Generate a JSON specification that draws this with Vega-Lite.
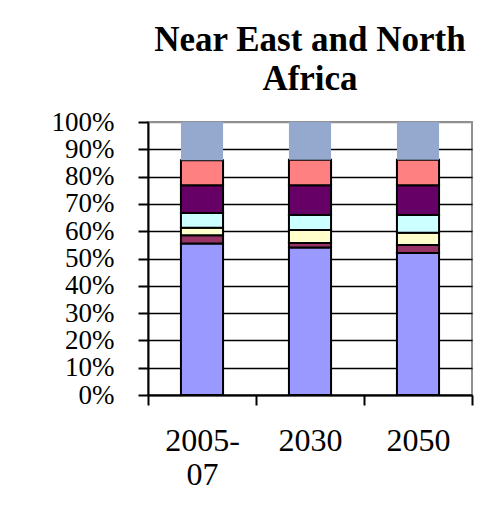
{
  "$schema": "https://vega.github.io/schema/vega-lite/v6.json",
  "width": 324,
  "height": 273,
  "autosize": "none",
  "padding": {"left": 148, "top": 122, "right": 30, "bottom": 117},
  "background": "white",
  "title": {
    "text": ["Near East and North", "Africa"],
    "font": "Liberation Serif",
    "fontSize": 35,
    "fontWeight": "bold",
    "lineHeight": 39,
    "anchor": "middle",
    "color": "black",
    "offset": 11
  },
  "data": {
    "values": [
      {"year": "2005-07", "series": "A", "order": 1, "value": 55.5},
      {"year": "2005-07", "series": "B", "order": 2, "value": 3.0},
      {"year": "2005-07", "series": "C", "order": 3, "value": 2.8},
      {"year": "2005-07", "series": "D", "order": 4, "value": 5.4},
      {"year": "2005-07", "series": "E", "order": 5, "value": 10.1},
      {"year": "2005-07", "series": "F", "order": 6, "value": 9.2},
      {"year": "2005-07", "series": "G", "order": 7, "value": 14.0},
      {"year": "2030", "series": "A", "order": 1, "value": 54.0},
      {"year": "2030", "series": "B", "order": 2, "value": 1.7},
      {"year": "2030", "series": "C", "order": 3, "value": 4.7},
      {"year": "2030", "series": "D", "order": 4, "value": 5.5},
      {"year": "2030", "series": "E", "order": 5, "value": 10.9},
      {"year": "2030", "series": "F", "order": 6, "value": 9.4},
      {"year": "2030", "series": "G", "order": 7, "value": 13.8},
      {"year": "2050", "series": "A", "order": 1, "value": 52.0},
      {"year": "2050", "series": "B", "order": 2, "value": 2.9},
      {"year": "2050", "series": "C", "order": 3, "value": 4.5},
      {"year": "2050", "series": "D", "order": 4, "value": 6.5},
      {"year": "2050", "series": "E", "order": 5, "value": 10.9},
      {"year": "2050", "series": "F", "order": 6, "value": 9.4},
      {"year": "2050", "series": "G", "order": 7, "value": 13.8}
    ]
  },
  "mark": {"type": "bar", "width": {"band": 0.39}},
  "encoding": {
    "x": {
      "field": "year",
      "type": "nominal",
      "sort": ["2005-07", "2030", "2050"],
      "scale": {"paddingInner": 0, "paddingOuter": 0},
      "axis": {
        "title": null,
        "labelAngle": 0,
        "labelFont": "Liberation Serif",
        "labelFontSize": 32,
        "labelColor": "black",
        "labelPadding": 20,
        "labelLineHeight": 34,
        "labelOverlap": false,
        "labelExpr": "datum.value == '2005-07' ? ['2005-', '07'] : datum.value",
        "tickBand": "extent",
        "tickSize": 10,
        "tickWidth": 2,
        "tickColor": "black",
        "domainColor": "black",
        "domainWidth": 2,
        "grid": false
      }
    },
    "y": {
      "field": "value",
      "type": "quantitative",
      "stack": "normalize",
      "scale": {"domain": [0, 1]},
      "axis": {
        "title": null,
        "values": [0, 0.1, 0.2, 0.3, 0.4, 0.5, 0.6, 0.7, 0.8, 0.9, 1],
        "format": ".0%",
        "labelFont": "Liberation Serif",
        "labelFontSize": 27,
        "labelColor": "black",
        "labelPadding": 24,
        "labelOverlap": false,
        "labelBound": false,
        "tickSize": 10,
        "tickWidth": 2,
        "tickColor": "black",
        "domainColor": "black",
        "domainWidth": 2,
        "grid": true,
        "gridColor": {"condition": {"test": "datum.value == 1", "value": "#909090"}, "value": "black"},
        "gridWidth": 1.6,
        "gridOpacity": 1
      }
    },
    "order": {"field": "order", "type": "quantitative", "sort": "ascending"},
    "color": {
      "field": "series",
      "type": "nominal",
      "legend": null,
      "scale": {
        "domain": ["A", "B", "C", "D", "E", "F", "G"],
        "range": ["#9999FF", "#993366", "#FFFFCC", "#CCFFFF", "#660066", "#FF8080", "#95A8CE"]
      }
    },
    "stroke": {
      "condition": {"test": "datum.series == 'G'", "value": "#95A8CE"},
      "value": "black"
    },
    "strokeWidth": {
      "condition": {"test": "datum.series == 'G'", "value": 0},
      "value": 2
    }
  },
  "config": {
    "view": {"stroke": "#909090", "strokeWidth": 2},
    "bar": {"opacity": 1}
  }
}
